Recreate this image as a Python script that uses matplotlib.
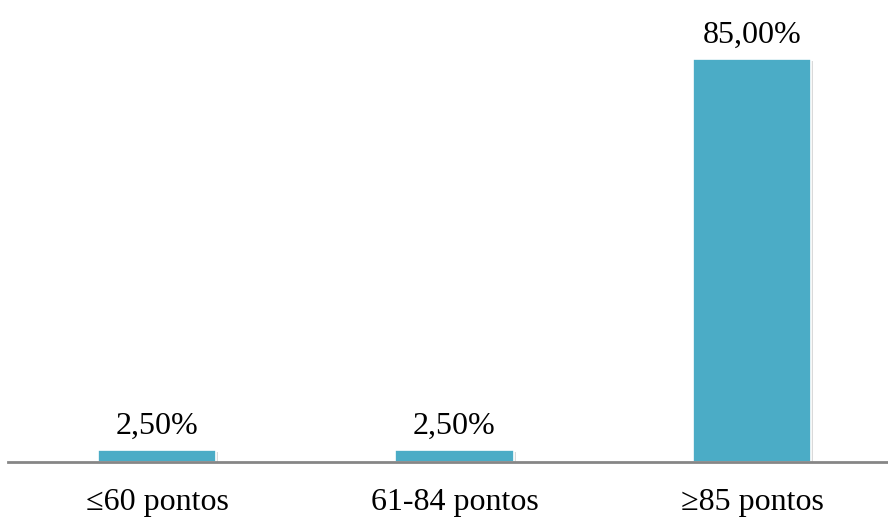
import matplotlib
matplotlib.use("Agg")
import matplotlib.pyplot as plt
import matplotlib.patheffects as pe

categories = ["≤60 pontos", "61-84 pontos", "≥85 pontos"]
values = [2.50, 2.50, 85.00]
value_labels = ["2,50%", "2,50%", "85,00%"]

plt.rcParams["font.family"] = ["Liberation Serif", "DejaVu Serif"]

fig = plt.figure(figsize=(8.88, 5.17), dpi=100)
# axes spans x 8..900 px, y baseline at 462 px, top (85%) at 59 px
W, H = 888, 517
x0, x1 = 8.25, 900.75
y0 = 462
ymax_px = 59
ax = fig.add_axes([x0 / W, (H - y0) / H, (x1 - x0) / W, (y0 - ymax_px) / H])
ax.set_xlim(-0.5, 2.5)
ax.set_ylim(0, 85)

bars = ax.bar(range(len(values)), values, width=0.397, color="#4BACC6",
              edgecolor="white", linewidth=1.2, zorder=3)
for b in bars:
    b.set_path_effects([pe.SimplePatchShadow(offset=(1.5, -1.5), shadow_rgbFace="#000000", alpha=0.15),
                        pe.Normal()])

for i, (v, lab) in enumerate(zip(values, value_labels)):
    ax.annotate(lab, (i, v), xytext=(0, 6.5), textcoords="offset points",
                ha="center", va="bottom", fontsize=23, color="#000000")

for s in ["top", "right", "left"]:
    ax.spines[s].set_visible(False)
ax.spines["bottom"].set_color("#868686")
ax.spines["bottom"].set_linewidth(2)
ax.spines["bottom"].set_zorder(4)
ax.set_yticks([])
ax.set_xticks(range(len(categories)))
ax.set_xticklabels(categories, fontsize=23)
ax.tick_params(axis="x", length=0, pad=18.5)

fig.savefig("out.png", dpi=100)
